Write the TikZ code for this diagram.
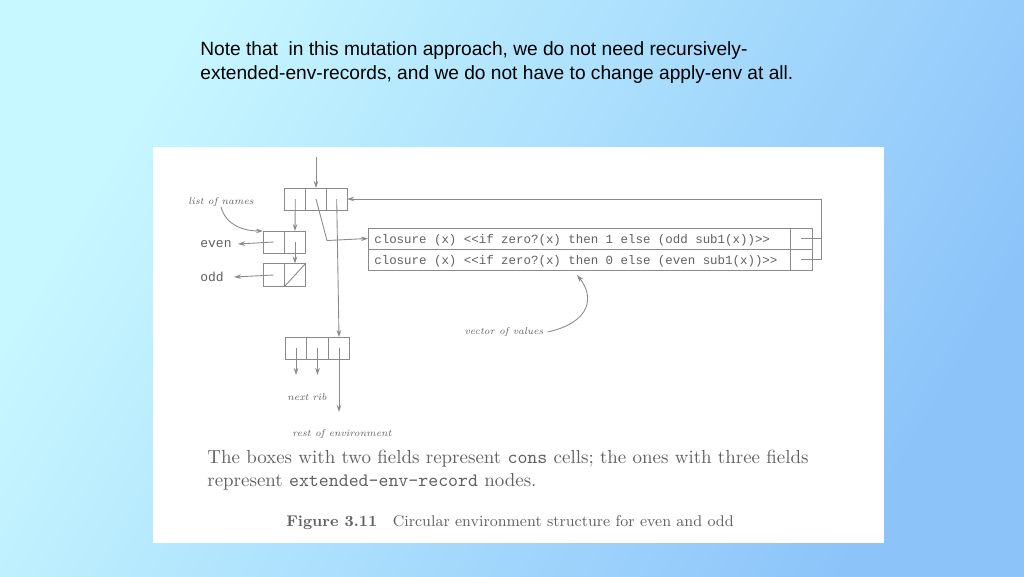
\documentclass[tikz,border=0pt]{standalone}
\usepackage{fontspec}
\newfontfamily\arial{Liberation Sans}
\newfontfamily\cour{Liberation Mono}
\usetikzlibrary{arrows.meta}
\definecolor{bgA}{HTML}{C8F8FF}
\definecolor{bgB}{HTML}{8CC4FA}
\definecolor{ink}{HTML}{606060}
\definecolor{wire}{HTML}{8A8A8A}
\tikzset{
  cell/.style={draw=wire, line width=0.5pt, inner sep=0pt, outer sep=0pt, minimum height=22*0.02cm},
  c21/.style={cell, minimum width=21*0.02cm},
  wirel/.style={draw=wire, line width=0.5pt},
  arr/.style={wirel, -{Stealth[length=4pt,width=2.6pt]}},
  lab/.style={text=ink, inner sep=0pt, font=\itshape\fontsize{5.6}{6}\selectfont},
  monolab/.style={text=ink, inner sep=0pt, font=\cour\fontsize{7.4}{8}\selectfont},
  vlab/.style={text=ink, inner sep=0pt, font=\cour\fontsize{7.08}{8}\selectfont},
}
\begin{document}
\begin{tikzpicture}[x=0.02cm,y=-0.02cm]
\useasboundingbox (0,0) rectangle (1024,576);
\shade[top color=bgA, bottom color=bgB, shading angle=60] (0,0) rectangle (1024,576);
\fill[white] (153,147) rectangle (884,543);

% heading text
\node[anchor=base west, inner sep=0pt, font=\arial\fontsize{10.9}{13}\selectfont] (t1) at (200,55) {Note that\ \ in this mutation approach, we do not need recursively-};
\node[anchor=base west, inner sep=0pt, font=\arial\fontsize{10.9}{13}\selectfont] (t2) at (200,79) {extended-env-records, and we do not have to change apply-env at all.};

% top extended-env-record
\node[c21] (a1) at (295.3,199) {};
\node[c21] (a2) at (316,199) {};
\node[c21] (a3) at (336.7,199) {};

% list of names
\node[c21] (e1) at (273.5,242) {};
\node[c21] (e2) at (295,242) {};
\node[c21, minimum height=23*0.02cm] (o1) at (273.5,275) {};
\node[c21, minimum height=23*0.02cm] (o2) at (295,275) {};
\draw[wirel] (o2.south west) -- (o2.north east);

\node[monolab] (even) at (216,244) {even};
\node[monolab] (odd) at (212,277) {odd};
\draw[arr] (e1.center) -- ([xshift=6*0.02cm]even.east);
\draw[arr] (o1.center) -- ([xshift=10*0.02cm]odd.east);

% vector of values
\node[cell, minimum width=422*0.02cm, minimum height=21*0.02cm] (v1) at (579,238.5) {};
\node[cell, minimum width=22*0.02cm, minimum height=21*0.02cm] (p1) at (801,238.5) {};
\node[cell, minimum width=422*0.02cm, minimum height=21*0.02cm] (v2) at (579,259.5) {};
\node[cell, minimum width=22*0.02cm, minimum height=21*0.02cm] (p2) at (801,259.5) {};
\node[vlab, anchor=west] (s1) at (374,240) {closure (x) <<if zero?(x) then 1 else (odd sub1(x))>>};
\node[vlab, anchor=west] (s2) at (374,261) {closure (x) <<if zero?(x) then 0 else (even sub1(x))>>};

% lower extended-env-record
\node[c21, minimum width=21.7*0.02cm] (b1) at (296,348) {};
\node[c21, minimum width=21.7*0.02cm] (b2) at (317.5,348) {};
\node[c21, minimum width=21.7*0.02cm] (b3) at (339,348) {};

% labels
\node[lab] (lon) at (221,202) {list of names};
\node[lab] (nr) at (307,397) {next rib};
\node[lab] (roe) at (342,434) {rest of environment};
\node[lab] (vov) at (504,332) {vector of values};

% coordinates
\coordinate (in) at (316,157);
\coordinate (bend) at (327,240.5);
\coordinate (rt1) at (821,238.5);
\coordinate (rt2) at (821,259.5);
\coordinate (rtop) at (821,199);
\coordinate (nr1) at (296,375);
\coordinate (nr2) at (317.5,375);
\coordinate (re) at (339,412);
\coordinate (vtip) at (577,275);

% connectors
\draw[arr] (in) -- (a2.north);
\draw[arr] (a1.center) -- (e2.north);
\draw[arr] (e2.center) -- (o2.north);
\draw[arr] (a2.center) -- (bend) -- (v1.west);
\draw[arr] (a3.center) -- (b3.north);
\draw[wirel] (p1.center) -- (rt1);
\draw[arr] (p2.center) -- (rt2) -- (rtop) -- (a3.east);
\draw[arr] (b1.center) -- (nr1);
\draw[arr] (b2.center) -- (nr2);
\draw[arr] (b3.center) -- (re);
\draw[arr] (lon.south) .. controls (226,226) and (245,231) .. (e1.north west);
\draw[arr] ([xshift=4*0.02cm]vov.east) .. controls (592,322) and (594,296) .. (vtip);

% caption
\node[anchor=base west, inner sep=0pt, text=ink, font=\fontsize{10.78}{12}\selectfont] (c1) at (207,463) {The boxes with two fields represent {\ttfamily cons} cells; the ones with three fields};
\node[anchor=base west, inner sep=0pt, text=ink, font=\fontsize{10.78}{12}\selectfont] (c2) at (207,486) {represent {\ttfamily extended-env-record} nodes.};
\node[anchor=base west, inner sep=0pt, text=ink, font=\fontsize{8.85}{11}\selectfont] (c3) at (286,526) {\textbf{Figure 3.11}\quad Circular environment structure for even and odd};
\end{tikzpicture}
\end{document}
